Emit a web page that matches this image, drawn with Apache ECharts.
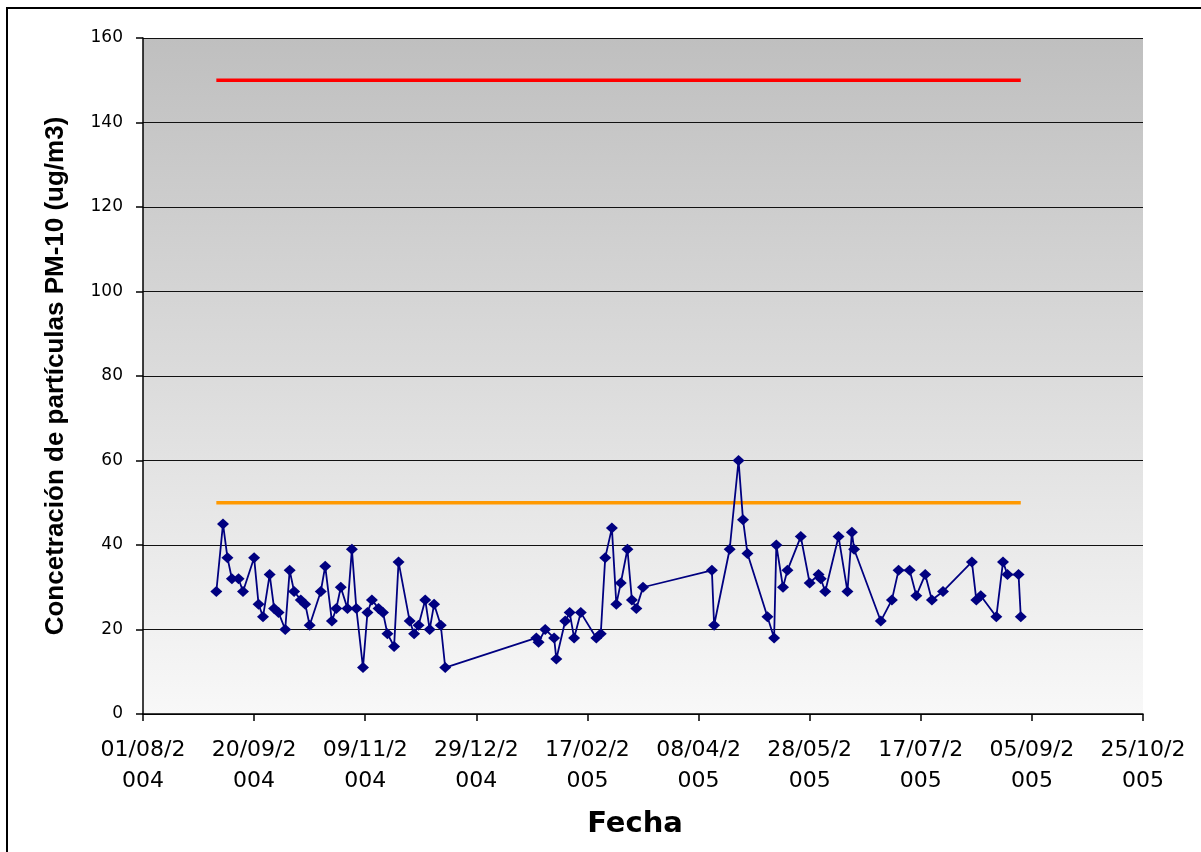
<!DOCTYPE html>
<html>
<head>
<meta charset="utf-8">
<script src="https://cdn.jsdelivr.net/npm/echarts@6/dist/echarts.min.js"></script>
<style>html,body{margin:0;padding:0;background:#fff;}#c{width:1201px;height:852px;}</style>
</head>
<body>
<div id="c"></div>
<script>
// ---- data ----
var dates = [
'2004-09-03','2004-09-06','2004-09-08','2004-09-10','2004-09-13','2004-09-15','2004-09-20','2004-09-22','2004-09-24','2004-09-27',
'2004-09-29','2004-10-01','2004-10-04','2004-10-06','2004-10-08','2004-10-11','2004-10-13','2004-10-15','2004-10-20','2004-10-22',
'2004-10-25','2004-10-27','2004-10-29','2004-11-01','2004-11-03','2004-11-05','2004-11-08','2004-11-10','2004-11-12','2004-11-15',
'2004-11-17','2004-11-19','2004-11-22','2004-11-24','2004-11-29','2004-12-01','2004-12-03','2004-12-06','2004-12-08','2004-12-10',
'2004-12-13','2004-12-15','2005-01-25','2005-01-26','2005-01-29','2005-02-02','2005-02-03','2005-02-07','2005-02-09','2005-02-11',
'2005-02-14','2005-02-21','2005-02-23','2005-02-25','2005-02-28','2005-03-02','2005-03-04','2005-03-07','2005-03-09','2005-03-11',
'2005-03-14','2005-04-14','2005-04-15','2005-04-22','2005-04-26','2005-04-28','2005-04-30','2005-05-09','2005-05-12','2005-05-13',
'2005-05-16','2005-05-18','2005-05-24','2005-05-28','2005-06-01','2005-06-02','2005-06-04','2005-06-10','2005-06-14','2005-06-16',
'2005-06-17','2005-06-29','2005-07-04','2005-07-07','2005-07-12','2005-07-15','2005-07-19','2005-07-22','2005-07-27','2005-08-09',
'2005-08-11','2005-08-13','2005-08-20','2005-08-23','2005-08-25','2005-08-30','2005-08-31'
];
var pm10 = [
29,45,37,32,32,29,37,26,23,33,
25,24,20,34,29,27,26,21,29,35,
22,25,30,25,39,25,11,24,27,25,
24,19,16,36,22,19,21,27,20,26,
21,11,18,17,20,18,13,22,24,18,
24,18,19,37,44,26,31,39,27,25,
30,34,21,39,60,46,38,23,18,40,
30,34,42,31,33,32,29,42,29,43,
39,22,27,34,34,28,33,27,29,36,
27,28,23,36,33,33,23
];
var limitDates = ['2004-09-03','2005-08-31'];
var limit150 = [150,150];
var limit50 = [50,50];
var axisStart = '2004-08-01';
var tickLabels = ['01/08/2004','20/09/2004','09/11/2004','29/12/2004','17/02/2005','08/04/2005','28/05/2005','17/07/2005','05/09/2005','25/10/2005'];
var yTitle = 'Concetración de partículas PM-10 (ug/m3)';
var xTitle = 'Fecha';

// ---- helpers ----
function utc(s){var p=s.split('-');return Date.UTC(+p[0],+p[1]-1,+p[2]);}
var t0 = utc(axisStart);
function dayOf(s){return (utc(s)-t0)/86400000;}
function pairs(ds, vs){return ds.map(function(d,i){return [dayOf(d), vs[i]];});}

var chart = echarts.init(document.getElementById('c'), null, {renderer:'canvas'});
chart.setOption({
  animation:false,
  backgroundColor:'#ffffff',
  textStyle:{fontFamily:'Liberation Sans, Arial, sans-serif'},
  grid:{left:143, top:38, width:1000, height:676, show:true, borderWidth:0,
    backgroundColor:{type:'linear',x:0,y:0,x2:0,y2:1,colorStops:[{offset:0,color:'#bfbfbf'},{offset:1,color:'#f8f8f8'}]}},
  graphic:[{type:'rect', silent:true, z:-1, shape:{x:7,y:8,width:1300,height:900}, style:{fill:'none',stroke:'#000',lineWidth:2}}],
  title:[{text:xTitle, left:630, top:805, textAlign:'center',
    textStyle:{fontFamily:'DejaVu Sans', fontWeight:'bold', fontSize:29, color:'#000'}}],
  xAxis:{type:'value', min:0, max:450, interval:50,
    axisLine:{show:true, onZero:false, lineStyle:{color:'#000', width:1.5}},
    axisTick:{show:true, length:7, lineStyle:{color:'#000', width:1.5}},
    splitLine:{show:false},
    axisLabel:{margin:21, fontFamily:'DejaVu Sans', fontSize:22, lineHeight:31, color:'#000',
      formatter:function(v){var s=tickLabels[Math.round(v/50)]||'';return s.slice(0,7)+'\n'+s.slice(7);}}},
  yAxis:{type:'value', min:0, max:160, interval:20,
    name:yTitle, nameLocation:'middle', nameGap:74, nameRotate:90,
    nameTextStyle:{fontFamily:'Liberation Sans', fontWeight:'bold', fontSize:26, color:'#000'},
    axisLine:{show:true, lineStyle:{color:'#000', width:1.5}},
    axisTick:{show:true, length:7, lineStyle:{color:'#000', width:1.5}},
    splitLine:{show:true, lineStyle:{color:'#111', width:1}},
    axisLabel:{margin:20, fontFamily:'DejaVu Sans', fontSize:17, color:'#000'}},
  series:[
    {type:'line', data:pairs(limitDates, limit150), symbol:'none', lineStyle:{color:'#ff0000', width:3.5}, itemStyle:{color:'#ff0000'}, z:3},
    {type:'line', data:pairs(limitDates, limit50), symbol:'none', lineStyle:{color:'#ff9900', width:3.5}, itemStyle:{color:'#ff9900'}, z:3},
    {type:'line', data:pairs(dates, pm10), symbol:'diamond', symbolSize:[12,11],
      lineStyle:{color:'#000080', width:1.8}, itemStyle:{color:'#000080'}, z:4}
  ]
});
</script>
</body>
</html>
